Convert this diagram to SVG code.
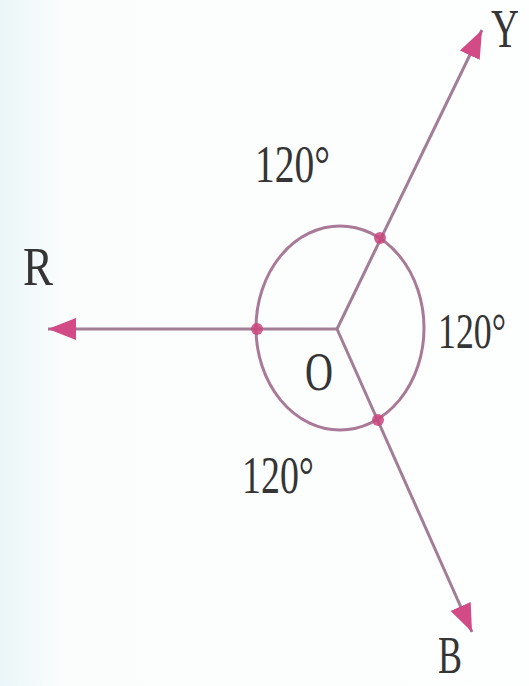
<svg xmlns="http://www.w3.org/2000/svg" width="529" height="686" viewBox="0 0 529 686">
  <style>
    .ray { stroke: #a27d96; stroke-width: 3; fill: none; }
    .ring { stroke: #a97a98; stroke-width: 3; fill: none; }
    .lbl { font-family: "Liberation Serif", "Times New Roman", serif; fill: #353535; }
    .mark { fill: #c9457c; opacity: 0.85; }
  </style>
  <defs>
    <marker id="head" markerUnits="userSpaceOnUse" markerWidth="30" markerHeight="24" refX="28" refY="12" orient="auto">
      <path d="M0,1 L28,12 L0,23 z" fill="#d24a86"/>
    </marker>
    <linearGradient id="bg" x1="0" y1="0" x2="1" y2="0">
      <stop offset="0" stop-color="#eaf6f8"/>
      <stop offset="0.12" stop-color="#fbfdfd"/>
      <stop offset="1" stop-color="#fdfefe"/>
    </linearGradient>
  </defs>
  <rect x="0" y="0" width="529" height="686" fill="url(#bg)"/>

  <g id="connectors">
    <line class="ray" x1="337" y1="329" x2="48" y2="329" marker-end="url(#head)"/>
    <line class="ray" x1="337" y1="329" x2="482" y2="30" marker-end="url(#head)"/>
    <line class="ray" x1="337" y1="329" x2="472" y2="632" marker-end="url(#head)"/>
  </g>

  <g id="circle">
    <ellipse class="ring" cx="340" cy="328" rx="84" ry="102"/>
    <circle class="mark" cx="380" cy="238" r="6"/>
    <circle class="mark" cx="378" cy="420" r="6"/>
    <circle class="mark" cx="257" cy="329" r="6"/>
  </g>

  <g id="node-O"><text class="lbl" x="305" y="390" font-size="55" textLength="28" lengthAdjust="spacingAndGlyphs">O</text></g>
  <g id="node-R"><text class="lbl" x="23" y="285" font-size="55" textLength="30" lengthAdjust="spacingAndGlyphs">R</text></g>
  <g id="node-Y"><text class="lbl" x="491" y="47" font-size="54" textLength="28" lengthAdjust="spacingAndGlyphs">Y</text></g>
  <g id="node-B"><text class="lbl" x="438" y="673" font-size="52" textLength="24" lengthAdjust="spacingAndGlyphs">B</text></g>

  <g id="angle-top"><text class="lbl" x="255" y="182" font-size="52" textLength="75" lengthAdjust="spacingAndGlyphs">120°</text></g>
  <g id="angle-right"><text class="lbl" transform="translate(438,348) scale(0.716,1)" x="0" y="0" font-size="50">120°</text></g>
  <g id="angle-bottom"><text class="lbl" x="242" y="493" font-size="52" textLength="72" lengthAdjust="spacingAndGlyphs">120°</text></g>
</svg>
